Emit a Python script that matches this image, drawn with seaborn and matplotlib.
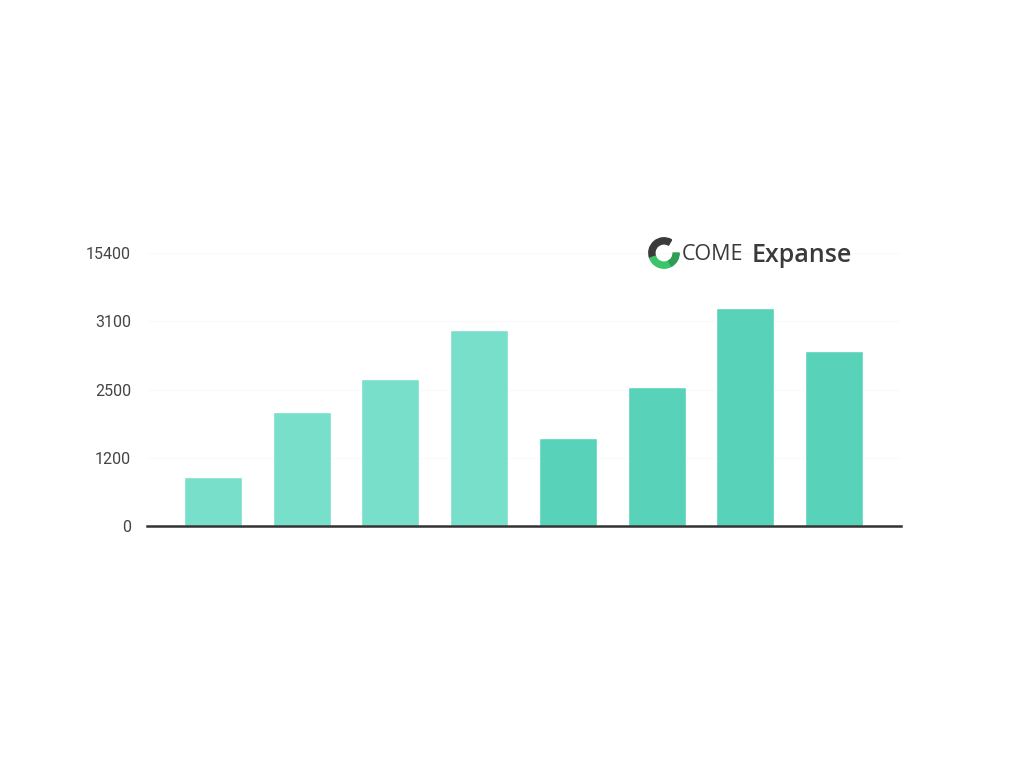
import numpy as np
import pandas as pd
import matplotlib
matplotlib.use("Agg")
import matplotlib.pyplot as plt
import seaborn as sns
from matplotlib.patches import Wedge

# Data
periods = ["P1", "P2", "P3", "P4", "P5", "P6", "P7", "P8"]
values = [860, 2000, 2580, 3440, 1540, 2440, 3830, 3070]
bar_colors = ["#77dfca", "#77dfca", "#77dfca", "#77dfca",
              "#58d3ba", "#58d3ba", "#58d3ba", "#58d3ba"]
tick_pos = [0, 1200, 2400, 3600, 4800]
tick_labels = ["0", "1200", "2500", "3100", "15400"]

df = pd.DataFrame({"period": periods, "value": values})

sns.set_theme(style="white")
plt.rcParams["font.family"] = ["Roboto", "DejaVu Sans"]

fig = plt.figure(figsize=(10.24, 7.68), dpi=100)
ax = fig.add_axes([147 / 1024, (768 - 526) / 768, (901 - 147) / 1024, (526 - 253) / 768])

sns.barplot(data=df, x="period", y="value", hue="period", palette=bar_colors,
            legend=False, width=0.654, saturation=1, ax=ax)

ax.set_xlim(-0.744, 7.755)
ax.set_ylim(0, 4800)
ax.set_yticks(tick_pos)
ax.set_yticklabels(tick_labels, color="#444444", fontsize=11.5)
ax.tick_params(axis="y", length=0, pad=11.5)
ax.set_xticks([])
ax.set_xlabel("")
ax.set_ylabel("")

# barely visible grid
for t in tick_pos[1:]:
    ax.axhline(t, color="#fafafa", lw=1, zorder=0)

for side in ["top", "right", "left"]:
    ax.spines[side].set_visible(False)
ax.spines["bottom"].set_color("#333333")
ax.spines["bottom"].set_linewidth(1.8)

# logo: ring icon + text
icon = fig.add_axes([648 / 1024, (768 - 269) / 768, 32 / 1024, 32 / 768])
icon.set_xlim(-1, 1)
icon.set_ylim(-1, 1)
icon.set_aspect("equal")
icon.axis("off")
icon.add_patch(Wedge((0, 0), 0.95, 60, 200, width=0.38, color="#3a3a3a"))
icon.add_patch(Wedge((0, 0), 0.95, 200, 300, width=0.38, color="#3cc46a"))
icon.add_patch(Wedge((0, 0), 0.95, 300, 360, width=0.38, color="#2e9e55"))

fig.text(682 / 1024, 1 - 255 / 768, "COME", fontsize=15.5, color="#3a3a3a",
         va="center", ha="left", family=["Open Sans", "DejaVu Sans"])
fig.text(752 / 1024, 1 - 255 / 768, "Expanse", fontsize=18, color="#3a3a3a",
         va="center", ha="left", weight="semibold", family=["Open Sans", "DejaVu Sans"])

fig.savefig("out.png", dpi=100, facecolor="white")
